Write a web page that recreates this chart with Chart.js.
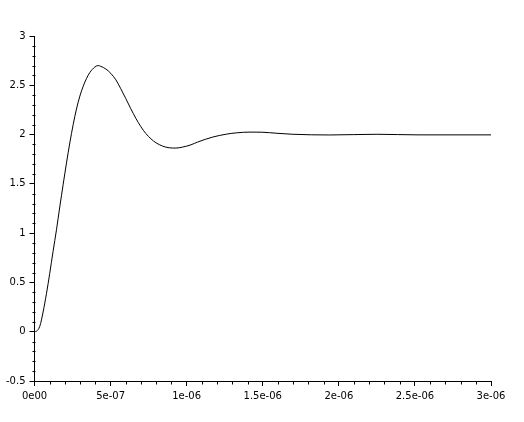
<!DOCTYPE html>
<html>
<head>
<meta charset="utf-8">
<script src="https://cdn.jsdelivr.net/npm/chart.js@4"></script>
<style>
html,body{margin:0;padding:0;background:#fff;}
#wrap{width:524px;height:422px;}
</style>
</head>
<body>
<div id="wrap"><canvas id="c" width="524" height="422"></canvas></div>
<script>
// Time (s) and response values
const timeValues = [0, 1.3e-8, 3.5e-8, 5.65e-8, 7.9e-8, 1.0e-7, 1.22e-7, 1.45e-7, 1.66e-7, 1.88e-7,
  2.1e-7, 2.32e-7, 2.54e-7, 2.76e-7, 2.98e-7, 3.2e-7, 3.42e-7, 3.64e-7, 3.96e-7, 4.19e-7,
  4.36e-7, 4.69e-7, 5.02e-7, 5.35e-7, 5.67e-7, 6.0e-7, 6.33e-7, 6.66e-7, 6.99e-7, 7.32e-7,
  7.65e-7, 7.98e-7, 8.42e-7, 8.85e-7, 9.29e-7, 9.73e-7, 1.028e-6, 1.072e-6, 1.172e-6, 1.264e-6,
  1.33e-6, 1.416e-6, 1.494e-6, 1.593e-6, 1.698e-6, 1.94e-6, 2.25e-6, 2.52e-6, 3.0e-6];
const responseValues = [0, 0.005, 0.056, 0.20, 0.39, 0.59, 0.815, 1.04, 1.265, 1.49,
  1.71, 1.915, 2.10, 2.26, 2.39, 2.49, 2.57, 2.63, 2.685, 2.70,
  2.692, 2.665, 2.62, 2.555, 2.465, 2.365, 2.262, 2.165, 2.08, 2.01,
  1.957, 1.917, 1.883, 1.866, 1.863, 1.873, 1.896, 1.924, 1.975, 2.005,
  2.018, 2.025, 2.024, 2.013, 2.003, 1.996, 2.003, 1.997, 1.997];

const xTickValues = [0, 5e-7, 1e-6, 1.5e-6, 2e-6, 2.5e-6, 3e-6];
const xTickLabels = ["0e00", "5e-07", "1e-06", "1.5e-06", "2e-06", "2.5e-06", "3e-06"];
const yTickValues = [-0.5, 0, 0.5, 1, 1.5, 2, 2.5, 3];
const yTickLabels = ["-0.5", "0", "0.5", "1", "1.5", "2", "2.5", "3"];
const xMinorStep = 1e-7;
const yMinorStep = 0.1;

const points = timeValues.map((t, i) => ({x: t, y: responseValues[i]}));

const minorTicks = {
  id: 'minorTicks',
  afterDraw(chart) {
    const ctx = chart.ctx;
    const xs = chart.scales.x, ys = chart.scales.y;
    ctx.save();
    ctx.strokeStyle = '#000';
    ctx.lineWidth = 1;
    ctx.beginPath();
    const yb = Math.round(ys.getPixelForValue(ys.min)) + 0.5;
    for (let k = 0; k <= Math.round((xs.max - xs.min) / xMinorStep); k++) {
      if (k % 5 === 0) continue;
      const px = Math.round(xs.getPixelForValue(xs.min + k * xMinorStep)) + 0.5;
      ctx.moveTo(px, yb);
      ctx.lineTo(px, yb + 3);
    }
    const xl = Math.round(xs.getPixelForValue(xs.min)) + 0.5;
    for (let k = 0; k <= Math.round((ys.max - ys.min) / yMinorStep); k++) {
      if (k % 5 === 0) continue;
      const py = Math.round(ys.getPixelForValue(ys.min + k * yMinorStep)) + 0.5;
      ctx.moveTo(xl, py);
      ctx.lineTo(xl - 3, py);
    }
    ctx.stroke();
    ctx.restore();
  }
};

const font = {family: 'DejaVu Sans', size: 10};

new Chart(document.getElementById('c'), {
  type: 'line',
  data: {
    datasets: [{
      data: points,
      borderColor: '#000',
      borderWidth: 1,
      pointRadius: 0,
      fill: false,
      cubicInterpolationMode: 'monotone'
    }]
  },
  options: {
    responsive: false,
    animation: false,
    devicePixelRatio: 1,
    layout: {padding: {top: 36, right: 33, left: 0, bottom: 0}},
    plugins: {legend: {display: false}, tooltip: {enabled: false}},
    scales: {
      x: {
        type: 'linear',
        min: 0, max: 3e-6,
        afterBuildTicks(scale) { scale.ticks = xTickValues.map(v => ({value: v})); },
        afterFit(scale) { scale.height = 41; },
        ticks: {
          color: '#000', font: font, padding: 4, maxRotation: 0, autoSkip: false,
          callback(value, index) { return xTickLabels[index]; }
        },
        grid: {drawOnChartArea: false, drawTicks: true, tickLength: 5, color: '#000'},
        border: {display: true, color: '#000', width: 1}
      },
      y: {
        type: 'linear',
        min: -0.5, max: 3,
        afterBuildTicks(scale) { scale.ticks = yTickValues.map(v => ({value: v})); },
        afterFit(scale) { scale.width = 34.5; },
        ticks: {
          color: '#000', font: font, padding: 4, autoSkip: false,
          callback(value, index) { return yTickLabels[index]; }
        },
        grid: {drawOnChartArea: false, drawTicks: true, tickLength: 5, color: '#000'},
        border: {display: true, color: '#000', width: 1}
      }
    }
  },
  plugins: [minorTicks]
});
</script>
</body>
</html>
